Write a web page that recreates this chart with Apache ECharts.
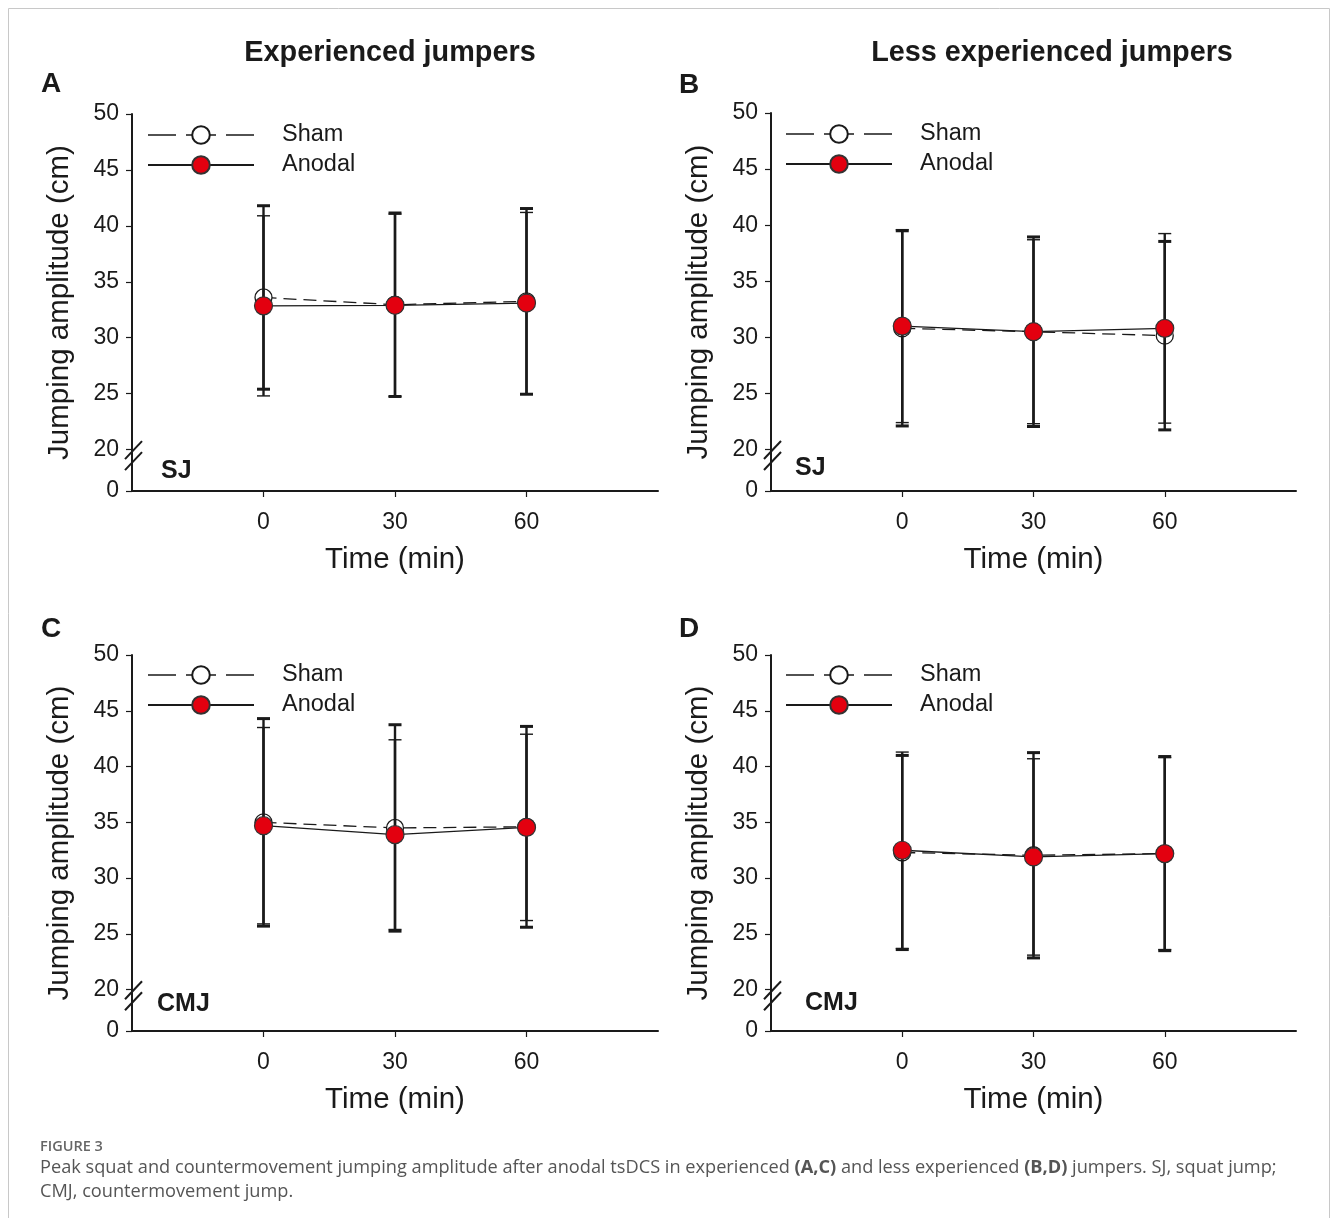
<!DOCTYPE html>
<html>
<head>
<meta charset="utf-8">
<script src="https://cdn.jsdelivr.net/npm/echarts@6/dist/echarts.min.js"></script>
<style>
html,body{margin:0;padding:0;background:#fff;}
#main{width:1333px;height:1218px;}
</style>
</head>
<body>
<div id="main"></div>
<script>
// ---- data ----
const times = [0, 30, 60];
const xTickLabels = [0, 30, 60];
const yTickLabels = [20, 25, 30, 35, 40, 45, 50];
const seriesNames = ['Sham', 'Anodal'];
const panelTitles = ['Experienced jumpers', 'Less experienced jumpers'];
const panelLetters = ['A', 'B', 'C', 'D'];
const panelTests = ['SJ', 'SJ', 'CMJ', 'CMJ'];

// A: SJ, experienced
const shamMeanA = [33.6, 32.95, 33.25];
const shamSdA = [8.2, 8.2, 8.3];
const anodalMeanA = [32.85, 32.9, 33.1];
const anodalSdA = [8.05, 8.15, 8.1];
// B: SJ, less experienced
const shamMeanB = [30.8, 30.5, 30.15];
const shamSdB = [8.7, 8.45, 8.4];
const anodalMeanB = [31.0, 30.5, 30.8];
const anodalSdB = [8.6, 8.2, 8.45];
// C: CMJ, experienced
const shamMeanC = [35.0, 34.5, 34.6];
const shamSdC = [9.3, 9.25, 9.0];
const anodalMeanC = [34.7, 33.9, 34.55];
const anodalSdC = [8.8, 8.5, 8.35];
// D: CMJ, less experienced
const shamMeanD = [32.3, 32.05, 32.2];
const shamSdD = [8.7, 9.2, 8.7];
const anodalMeanD = [32.5, 31.9, 32.2];
const anodalSdD = [8.8, 8.8, 8.6];

const panels = [
  [shamMeanA, shamSdA, anodalMeanA, anodalSdA],
  [shamMeanB, shamSdB, anodalMeanB, anodalSdB],
  [shamMeanC, shamSdC, anodalMeanC, anodalSdC],
  [shamMeanD, shamSdD, anodalMeanD, anodalSdD]
];

// ---- layout / style ----
const FONT = '"Liberation Sans", Arial, sans-serif';
const INK = '#1a1a1a';
const RED = '#e3000f';
const X_MIN = -30, X_MAX = 90;
const Y_BREAK_MIN = 16.3, Y_MAX = 50;
const grids = [
  {left: 132, top: 114, width: 526, height: 377},
  {left: 771, top: 113, width: 525, height: 378},
  {left: 132, top: 655, width: 526, height: 376},
  {left: 771, top: 655, width: 525, height: 376}
];
const legendPos = [
  {left: 142, top: 118},
  {left: 780, top: 117},
  {left: 142, top: 658},
  {left: 780, top: 658}
];

const chart = echarts.init(document.getElementById('main'), null, {renderer: 'canvas'});

const xAxes = [], yAxes = [], series = [], legends = [];
const yLabelValues = [Y_BREAK_MIN].concat(yTickLabels);

function errRender(capWidth) {
  return function (params, api) {
    const x = api.value(0), lo = api.value(1), hi = api.value(2);
    const pt = api.coord([x, hi]);
    const pb = api.coord([x, lo]);
    const half = 6.5;
    const style = {stroke: INK, lineWidth: 2.4};
    const capStyle = {stroke: INK, lineWidth: capWidth};
    return {
      type: 'group',
      children: [
        {type: 'line', shape: {x1: pt[0], y1: pt[1], x2: pb[0], y2: pb[1]}, style: style},
        {type: 'line', shape: {x1: pt[0] - half, y1: pt[1], x2: pt[0] + half, y2: pt[1]}, style: capStyle},
        {type: 'line', shape: {x1: pb[0] - half, y1: pb[1], x2: pb[0] + half, y2: pb[1]}, style: capStyle}
      ]
    };
  };
}

panels.forEach((p, i) => {
  const [sm, ss, am, as] = p;
  xAxes.push({
    type: 'value', gridIndex: i, min: X_MIN, max: X_MAX,
    name: 'Time (min)', nameLocation: 'middle', nameGap: 54,
    nameTextStyle: {fontFamily: FONT, fontSize: 29.5, color: INK},
    axisLine: {show: true, onZero: false, lineStyle: {color: INK, width: 2}},
    axisTick: {show: true, length: 6, lineStyle: {color: INK, width: 1.2}, customValues: xTickLabels},
    axisLabel: {fontFamily: FONT, fontSize: 23, color: INK, margin: 20, customValues: xTickLabels},
    splitLine: {show: false}
  });
  yAxes.push({
    type: 'value', gridIndex: i, min: Y_BREAK_MIN, max: Y_MAX,
    name: 'Jumping amplitude (cm)', nameLocation: 'middle', nameGap: 57, nameRotate: 90,
    nameTextStyle: {fontFamily: FONT, fontSize: 29.5, color: INK},
    axisLine: {show: true, onZero: false, lineStyle: {color: INK, width: 2}},
    axisTick: {show: true, length: 6, lineStyle: {color: INK, width: 1.2}, customValues: yLabelValues},
    axisLabel: {fontFamily: FONT, fontSize: 23, color: INK, margin: 13, padding: [11, 0, 0, 0],
      customValues: yLabelValues,
      formatter: v => (v < 19 ? '0' : String(Math.round(v)))},
    splitLine: {show: false}
  });
  series.push({
    type: 'line', name: 'Sham', xAxisIndex: i, yAxisIndex: i, z: 2,
    data: times.map((t, k) => [t, sm[k]]),
    symbol: 'circle', symbolSize: 17,
    itemStyle: {color: '#ffffff', borderColor: INK, borderWidth: 1.3},
    lineStyle: {color: INK, width: 1.3, type: [13, 7]},
    emphasis: {disabled: true}
  });
  series.push({
    type: 'custom', name: 'ShamErr', xAxisIndex: i, yAxisIndex: i, z: 3,
    renderItem: errRender(3),
    encode: {x: 0, y: [1, 2]},
    data: times.map((t, k) => [t, sm[k] - ss[k], sm[k] + ss[k]])
  });
  series.push({
    type: 'custom', name: 'AnodalErr', xAxisIndex: i, yAxisIndex: i, z: 3,
    renderItem: errRender(1.4),
    encode: {x: 0, y: [1, 2]},
    data: times.map((t, k) => [t, am[k] - as[k], am[k] + as[k]])
  });
  series.push({
    type: 'line', name: 'Anodal', xAxisIndex: i, yAxisIndex: i, z: 4,
    data: times.map((t, k) => [t, am[k]]),
    symbol: 'circle', symbolSize: 18,
    itemStyle: {color: RED, borderColor: '#333', borderWidth: 1.2},
    lineStyle: {color: INK, width: 1.3, type: 'solid'},
    emphasis: {disabled: true}
  });
  legends.push({
    data: [
      {name: seriesNames[0], lineStyle: {type: [28, 10, 30, 10, 28, 100], width: 1.3}},
      {name: seriesNames[1]}
    ],
    orient: 'vertical',
    left: legendPos[i].left, top: legendPos[i].top,
    itemWidth: 106, itemHeight: 22, itemGap: 6,
    selectedMode: false,
    textStyle: {fontFamily: FONT, fontSize: 23.5, color: INK, lineHeight: 24, padding: [0, 0, 0, 23]}
  });
});

const graphics = [
  {type: 'rect', shape: {x: 8.5, y: 8.5, width: 1321, height: 1240}, style: {fill: 'none', stroke: '#c8c8c8', lineWidth: 1}, silent: true},
  {type: 'text', x: 390, y: 53, style: {text: panelTitles[0], font: 'bold 28.8px ' + FONT, fill: INK, textAlign: 'center', textVerticalAlign: 'middle'}},
  {type: 'text', x: 1052, y: 53, style: {text: panelTitles[1], font: 'bold 28.8px ' + FONT, fill: INK, textAlign: 'center', textVerticalAlign: 'middle'}},
  {type: 'text', x: 41, y: 84, style: {text: panelLetters[0], font: 'bold 28px ' + FONT, fill: INK, textVerticalAlign: 'middle'}},
  {type: 'text', x: 679, y: 85, style: {text: panelLetters[1], font: 'bold 28px ' + FONT, fill: INK, textVerticalAlign: 'middle'}},
  {type: 'text', x: 41, y: 629, style: {text: panelLetters[2], font: 'bold 28px ' + FONT, fill: INK, textVerticalAlign: 'middle'}},
  {type: 'text', x: 679, y: 629, style: {text: panelLetters[3], font: 'bold 28px ' + FONT, fill: INK, textVerticalAlign: 'middle'}},
  {type: 'text', x: 161, y: 471, style: {text: panelTests[0], font: 'bold 25px ' + FONT, fill: INK, textVerticalAlign: 'middle'}},
  {type: 'text', x: 795, y: 468, style: {text: panelTests[1], font: 'bold 25px ' + FONT, fill: INK, textVerticalAlign: 'middle'}},
  {type: 'text', x: 157, y: 1004, style: {text: panelTests[2], font: 'bold 25px ' + FONT, fill: INK, textVerticalAlign: 'middle'}},
  {type: 'text', x: 805, y: 1003, style: {text: panelTests[3], font: 'bold 25px ' + FONT, fill: INK, textVerticalAlign: 'middle'}},
  {type: 'text', x: 40, y: 1147, style: {text: 'FIGURE 3', font: '600 14.5px "Open Sans", sans-serif', fill: '#666', textVerticalAlign: 'middle'}},
  {type: 'text', x: 40, y: 1156, style: {
    text: '{n|Peak squat and countermovement jumping amplitude after anodal tsDCS in experienced }{b|(A,C)}{n| and less experienced }{b|(B,D)}{n| jumpers. SJ, squat jump;}\n{n|CMJ, countermovement jump.}',
    rich: {
      n: {font: '18.2px "Open Sans", sans-serif', fill: '#555', lineHeight: 24},
      b: {font: 'bold 18.2px "Open Sans", sans-serif', fill: '#555', lineHeight: 24}
    }
  }}
];

chart.setOption({
  animation: false,
  backgroundColor: '#fff',
  grid: grids,
  xAxis: xAxes,
  yAxis: yAxes,
  legend: legends,
  series: series,
  graphic: graphics
});

// axis break marks, positioned from the axis scale
const breaks = [];
grids.forEach((g, i) => {
  const p20 = chart.convertToPixel({gridIndex: i}, [X_MIN, 20]);
  [0.5, 11.5].forEach(off => {
    const cx = p20[0] + 1, cy = p20[1] + off;
    breaks.push({type: 'line', shape: {x1: cx - 8, y1: cy + 9, x2: cx + 9, y2: cy - 9},
      style: {stroke: INK, lineWidth: 2}, silent: true});
  });
});
chart.setOption({graphic: graphics.concat(breaks)});
</script>
</body>
</html>
